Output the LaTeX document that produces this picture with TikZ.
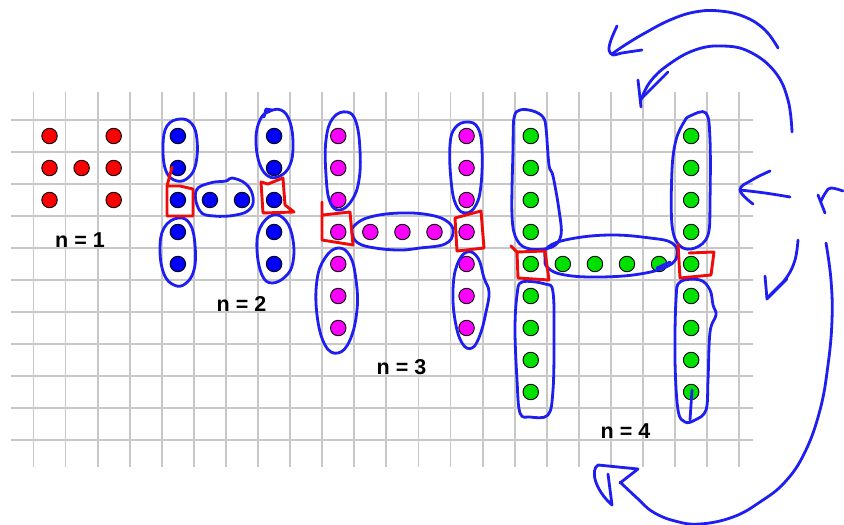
\documentclass[tikz,border=0pt]{standalone}
\usepackage{fontspec}
\setmainfont{Liberation Sans}
\definecolor{gridgray}{RGB}{200,200,200}
\definecolor{inkblue}{RGB}{30,30,240}
\definecolor{inkred}{RGB}{240,10,10}
\definecolor{dotred}{RGB}{250,0,0}
\definecolor{dotblue}{RGB}{0,0,250}
\definecolor{dotmag}{RGB}{250,0,250}
\definecolor{dotgreen}{RGB}{0,225,0}
\begin{document}
\begin{tikzpicture}[x=1pt,y=-1pt,
  gridline/.style={draw=gridgray,line width=1.8pt},
  dotnode/.style={circle,draw=black,line width=0.9pt,minimum size=15.5pt,inner sep=0pt},
  ink/.style={draw=inkblue,line width=2.8pt,line cap=round,line join=round},
  redink/.style={draw=inkred,line width=2.9pt,line cap=round,line join=round},
  lbl/.style={font=\bfseries\fontsize{21.5}{24}\selectfont,inner sep=0pt}]
\useasboundingbox (0,0) rectangle (844,525);
\fill[white] (0,0) rectangle (844,525);
% grid
\foreach \k in {0,...,22} \draw[gridline] ({33.5+32.08*\k},92) -- ({33.5+32.08*\k},467);
\foreach \k in {0,...,10} \draw[gridline] (11,{120+32*\k}) -- (753,{120+32*\k});
% dots
\begin{scope}[shift={(49.54,136)},x=32.08pt,y=-32pt]
  % n = 1
  \foreach \i/\j in {0/0,2/0,0/1,1/1,2/1,0/2,2/2}
    \node[dotnode,fill=dotred] (a-\i-\j) at (\i,\j) {};
  % n = 2
  \foreach \j in {0,...,4} {
    \node[dotnode,fill=dotblue] (b-4-\j) at (4,\j) {};
    \node[dotnode,fill=dotblue] (b-7-\j) at (7,\j) {};}
  \foreach \i in {5,6} \node[dotnode,fill=dotblue] (b-\i-2) at (\i,2) {};
  % n = 3
  \foreach \j in {0,...,6} {
    \node[dotnode,fill=dotmag] (c-9-\j) at (9,\j) {};
    \node[dotnode,fill=dotmag] (c-13-\j) at (13,\j) {};}
  \foreach \i in {10,11,12} \node[dotnode,fill=dotmag] (c-\i-3) at (\i,3) {};
  % n = 4
  \foreach \j in {0,...,8} {
    \node[dotnode,fill=dotgreen] (d-15-\j) at (15,\j) {};
    \node[dotnode,fill=dotgreen] (d-20-\j) at (20,\j) {};}
  \foreach \i in {16,...,19} \node[dotnode,fill=dotgreen] (d-\i-4) at (\i,4) {};
\end{scope}
% labels
\node[lbl] (t1) at (80,240) {n = 1};
\node[lbl] (t2) at (241.5,303.5) {n = 2};
\node[lbl] (t3) at (401.5,367) {n = 3};
\node[lbl] (t4) at (625.5,431.5) {n = 4};
% ---- n = 2 loops
\draw[ink] plot[smooth cycle,tension=0.7] coordinates {(180,119) (192,124) (197,140) (196,163) (189,177) (177,181) (166,171) (163,146) (167,126)};
\draw[ink] plot[smooth cycle,tension=0.7] coordinates {(178,218) (190,224) (195,245) (194,270) (185,284) (174,285) (164,274) (160,250) (164,228)};
\draw[ink] plot[smooth cycle,tension=0.7] coordinates {(196,191) (210,183) (226,181) (232,178) (246,184) (253,197) (250,209) (236,215) (214,216) (200,211)};
\draw[ink] plot[smooth cycle,tension=0.7] coordinates {(268,112) (281,110) (290,122) (293,145) (290,165) (280,176) (268,176) (259,162) (256,138) (260,120)};
\draw[ink] (264,117) -- (266,109) -- (272,110);
\draw[ink] plot[smooth cycle,tension=0.7] coordinates {(273,215) (286,221) (293,240) (293,262) (286,276) (272,283) (262,275) (257,250) (260,228)};
\draw[redink] (172,167) -- (167,186) -- (167,216) -- (193,216) -- (193,189) -- (180,186) -- (167,186);
\draw[redink] (261,182) -- (268,184) -- (283,178) -- (285,205) -- (294,212) -- (263,213) -- cycle;
% ---- n = 3 loops
\draw[ink] plot[smooth cycle,tension=0.7] coordinates {(347,112) (356,122) (360,150) (359,180) (352,200) (340,210) (330,202) (326,175) (326,140) (333,118)};
\draw[ink] plot[smooth cycle,tension=0.7] coordinates {(355,225) (370,217) (400,213) (430,215) (448,222) (453,233) (445,244) (420,248) (400,250) (375,248) (358,243) (352,233)};
\draw[ink] plot[smooth cycle,tension=0.7] coordinates {(467,122) (478,128) (482,150) (481,185) (476,205) (466,213) (456,205) (451,180) (450,145) (455,128)};
\draw[ink] plot[smooth cycle,tension=0.7] coordinates {(338,248) (350,256) (356,280) (357,310) (350,340) (338,353) (325,345) (317,315) (317,280) (325,258)};
\draw[ink] plot[smooth cycle,tension=0.7] coordinates {(467,252) (478,258) (484,278) (489,292) (486,312) (480,335) (472,348) (462,343) (455,320) (453,290) (457,265)};
\draw[redink] (322,202) -- (322,240) -- (353,245) -- (350,212) -- (323,215);
\draw[redink] (455,218) -- (481,211) -- (484,248) -- (457,251) -- cycle;
% ---- n = 4 loops
\draw[ink] plot[smooth cycle,tension=0.6] coordinates {(520,110) (533,111) (543,117) (546,128) (549,165) (553,176) (559,210) (561,235) (552,247) (530,249) (517,240) (512,215) (513,150) (514,118)};
\draw[ink] plot[smooth cycle,tension=0.7] coordinates {(548,247) (570,239) (610,235) (650,238) (672,243) (677,255) (668,266) (640,274) (600,277) (565,275) (548,268) (545,258)};
\draw[ink] (657,268) -- (670,262);
\draw[ink] plot[smooth cycle,tension=0.6] coordinates {(690,116) (706,113) (710,140) (710,200) (708,235) (695,248) (680,246) (672,225) (672,170) (676,140) (684,122)};
\draw[ink] plot[smooth cycle,tension=0.6] coordinates {(522,282) (545,284) (553,292) (554,340) (553,390) (548,415) (530,417) (520,413) (517,380) (515,330) (517,295)};
\draw[ink] plot[smooth cycle,tension=0.6] coordinates {(680,282) (700,280) (710,290) (713,305) (716,315) (710,332) (708,380) (706,410) (695,420) (685,422) (678,410) (675,360) (676,300)};
\draw[ink] (692,390) -- (690,420);
\draw[redink] (511,246) -- (517,252) -- (518,278) -- (549,280) -- (545,251) -- (517,252);
\draw[redink] (678,244) -- (680,278) -- (711,275) -- (714,252) -- (689,253);
% ---- right-hand strokes
\draw[ink] plot[smooth,tension=0.7] coordinates {(778,48) (765,30) (745,17) (720,11) (695,12) (670,20) (645,33) (625,45) (612,54)};
\draw[ink] plot[smooth,tension=0.6] coordinates {(617,26) (611,40) (609,50) (613,55) (622,53) (642,50)};
\draw[ink] plot[smooth,tension=0.7] coordinates {(792,132) (788,100) (775,72) (750,52) (723,46) (695,50) (668,65) (650,82) (641,100)};
\draw[ink] (638,80) -- (641,107);
\draw[ink] (668,72) -- (642,98);
\draw[ink] plot[smooth,tension=0.7] coordinates {(790,197) (765,193) (740,190)};
\draw[ink] plot[smooth,tension=0.7] coordinates {(770,171) (752,180) (740,190) (753,204)};
\draw[ink] (818,195) -- (825,213);
\draw[ink] plot[smooth,tension=0.7] coordinates {(821,201) (826,192) (831,188) (843,191)};
\draw[ink] plot[smooth,tension=0.7] coordinates {(798,240) (795,260) (787,277) (775,290) (768,297)};
\draw[ink] (765,276) -- (767,299) -- (787,279);
\draw[ink] plot[smooth,tension=0.7] coordinates {(826,243) (831,280) (832,320) (828,365) (820,410) (805,452) (785,482) (760,502) (733,517) (700,524) (675,521) (653,512) (637,498) (620,482)};
\draw[ink] (620,483) -- (638,469) -- (598,465) .. controls (590,470) and (595,490) .. (612,505) -- (608,474);
\end{tikzpicture}
\end{document}
